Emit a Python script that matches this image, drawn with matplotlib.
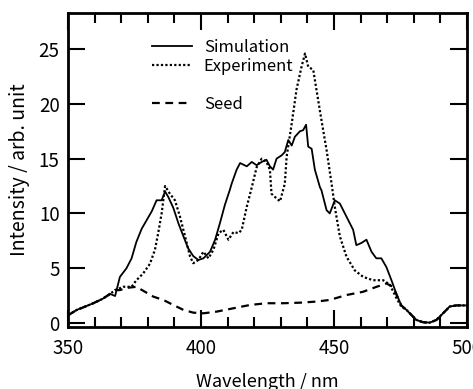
#!/usr/bin/env python3
"""Spectrum plot: simulation vs experiment vs seed."""

import matplotlib
matplotlib.use('Agg')
from matplotlib import pyplot as plt
from matplotlib.lines import Line2D
from matplotlib.ticker import MultipleLocator
import numpy as np


# Shared parts of the curves at both ends (all three overlap there).
EDGE_LEFT_X = [350, 353.3, 356, 359.5, 363, 365.8]
EDGE_LEFT_Y = [0.7, 1.19, 1.45, 1.8, 2.2, 2.65]
EDGE_RIGHT_X = [477.2, 479.1, 481.0, 483.5, 486.0, 488.5, 491.0, 493.5, 496.0, 500]
EDGE_RIGHT_Y = [1.2, 0.73, 0.27, 0.06, 0.03, 0.27, 0.88, 1.5, 1.6, 1.6]

SIM_X = [367.7, 369.5, 372, 373.9, 375.7, 377.7, 379.6, 381.5, 383.3, 385.2,
         386.5, 387.7, 389.6, 391.5, 393.4, 395.2, 397.1, 399.0, 400.9, 403.4,
         405.3, 407.1, 409.0, 410.9, 411.5, 413.4, 414.7, 417.2, 419.1, 420.9,
         422.8, 424.6, 425.9, 427.1, 428.4, 430.3, 431.5, 432.8, 434.1, 435.3,
         437.2, 438.4, 439.5, 440.3, 441.6, 442.8, 444.7, 445.3, 447.2, 448.4,
         450.3, 452.2, 454.7, 457.2, 458.4, 460.3, 462.2, 464.1, 465.9, 467.8,
         469.7, 471.6, 473.4, 475.3]
SIM_Y = [2.46, 4.2, 5.0, 5.9, 7.4, 8.6, 9.4, 10.2, 11.2, 11.2,
         12.0, 11.5, 10.5, 9.1, 7.9, 6.8, 6.1, 5.75, 5.9, 6.5,
         7.6, 9.1, 10.8, 12.2, 12.7, 14.0, 14.6, 14.3, 14.7, 14.4,
         14.7, 14.9, 14.3, 14.0, 15.0, 15.3, 15.6, 16.7, 16.2, 17.0,
         17.5, 17.6, 18.1, 16.1, 15.9, 14.0, 12.4, 12.1, 10.3, 10.0,
         11.2, 10.9, 9.7, 8.5, 7.1, 7.3, 7.6, 6.5, 5.9, 5.9,
         5.1, 3.9, 2.7, 1.6]

EXP_X = [367.7, 370.8, 373.9, 375.7, 378.2, 380.8, 382.7, 383.9, 385.2, 386.5,
         388.3, 390.2, 392.1, 394.0, 395.9, 397.1, 399.0, 400.9, 402.8, 404.7,
         406.6, 408.4, 410.3, 412.2, 414.1, 415.3, 417.2, 419.1, 420.9, 422.8,
         424.6, 425.9, 426.5, 427.8, 429.7, 431.5, 432.2, 434.1, 435.9, 437.8,
         439.1, 440.3, 442.2, 443.4, 445.3, 447.2, 449.1, 450.3, 452.2, 454.7,
         457.8, 461.0, 464.7, 468.5, 471.0, 473.5, 475.3]
EXP_Y = [3.0, 3.3, 3.3, 3.9, 4.5, 5.4, 6.7, 8.2, 10.0, 12.5,
         11.8, 11.2, 9.7, 7.9, 6.05, 5.45, 5.75, 6.5, 5.9, 6.7,
         8.2, 8.5, 7.6, 8.3, 8.2, 8.5, 10.6, 12.4, 14.2, 15.0,
         14.7, 14.0, 11.8, 11.5, 11.1, 12.7, 15.2, 18.2, 21.3, 23.4,
         24.6, 23.4, 23.1, 21.3, 18.5, 15.8, 12.7, 10.6, 7.9, 6.05,
         4.8, 4.2, 3.9, 3.9, 3.5, 2.25, 1.5]

SEED_X = [367.7, 369.5, 372, 375.7, 378.9, 382.1, 385.8, 389.6, 393.4, 397.1,
          400.9, 405.8, 412.2, 418.4, 424.6, 430.9, 437.2, 443.4, 448.4, 454.7,
          461.0, 466.0, 469.7, 472.2, 474.1, 475.3]
SEED_Y = [3.0, 3.0, 3.2, 3.3, 2.85, 2.4, 2.1, 1.64, 1.19, 0.94,
          0.88, 1.03, 1.34, 1.64, 1.8, 1.8, 1.85, 1.95, 2.1, 2.55,
          2.85, 3.3, 3.6, 3.3, 2.25, 1.6]


def full(xs, ys):
    """Join a curve with the shared ends."""
    x = np.concatenate([EDGE_LEFT_X, xs, EDGE_RIGHT_X])
    y = np.concatenate([EDGE_LEFT_Y, ys, EDGE_RIGHT_Y])
    return x, y


def main():
    """Draw the three spectra."""
    plt.rcParams['font.family'] = ['Noto Sans CJK JP', 'DejaVu Sans']

    fig = plt.figure(figsize=(4.73, 3.89), dpi=100)
    ax = fig.add_axes([0.1438, 0.1594, 0.8435, 0.8072])

    sim, = ax.plot(*full(SIM_X, SIM_Y), color='black', lw=1.3)
    exp, = ax.plot(*full(EXP_X, EXP_Y), color='black', lw=1.6,
                   linestyle=(0, (1, 1)))
    seed, = ax.plot(*full(SEED_X, SEED_Y), color='black', lw=1.6,
                    linestyle=(0, (3.5, 2.5)))

    ax.set_xlim(350, 500)
    ax.set_ylim(-0.37, 28.3)
    ax.xaxis.set_major_locator(MultipleLocator(50))
    ax.xaxis.set_minor_locator(MultipleLocator(10))
    ax.yaxis.set_major_locator(MultipleLocator(5))
    ax.tick_params(which='both', direction='in', top=True, right=True,
                   width=1.5, labelsize=13.5)
    ax.tick_params(axis='x', pad=8)
    ax.tick_params(axis='y', pad=6)
    ax.tick_params(which='major', length=12)
    ax.tick_params(which='minor', length=7)
    for spine in ax.spines.values():
        spine.set_linewidth(2)

    ax.set_xlabel('Wavelength / nm', fontsize=13, labelpad=10)
    ax.set_ylabel('Intensity / arb. unit', fontsize=14, labelpad=6)

    blank = Line2D([], [], color='none')
    ax.legend([sim, exp, blank, seed],
              ['Simulation', 'Experiment', '', 'Seed'],
              loc='upper left', bbox_to_anchor=(0.19, 0.945), frameon=False,
              handlelength=2.4, handletextpad=0.7, labelspacing=0.12,
              fontsize=12, borderpad=0)

    fig.savefig('out.png', dpi=100)


if __name__ == '__main__':
    main()
